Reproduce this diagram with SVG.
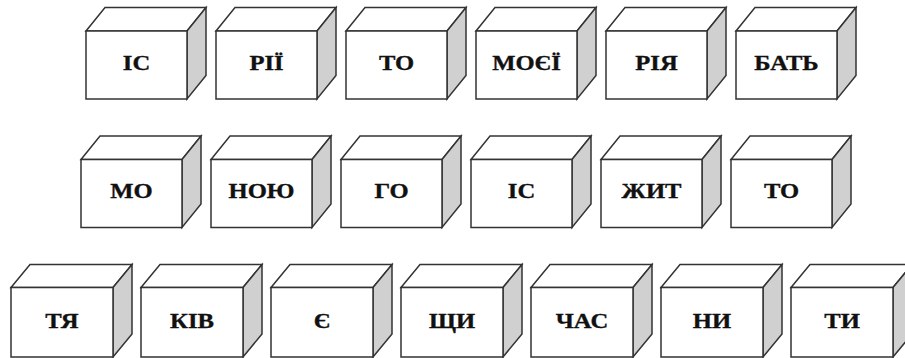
<svg xmlns="http://www.w3.org/2000/svg" width="905" height="358" viewBox="0 0 905 358">
<defs>
<style>
.f{fill:#ffffff;stroke:#333333;stroke-width:1.5;stroke-linejoin:miter}
.s{fill:#d0d0d0;stroke:#333333;stroke-width:1.5}
.t{font-family:"Liberation Serif","Times New Roman",serif;font-weight:bold;font-size:22px;fill:#111111;stroke:#111111;stroke-width:0.35;text-anchor:middle}
</style>
<g id="box">
<polygon class="f" points="0,0 19,-23.5 120,-23.5 101,0"/>
<polygon class="s" points="101,0 120,-23.5 120,44.5 101,68"/>
<rect class="f" x="0" y="0" width="101" height="68"/>
</g>
<g id="box3">
<polygon class="f" points="0,0 19,-23 121,-23 102,0"/>
<polygon class="s" points="102,0 121,-23 121,46.5 102,69.5"/>
<rect class="f" x="0" y="0" width="102" height="69.5"/>
</g>
</defs>
<g id="connectors"></g>
<g id="n1"><use href="#box" x="86" y="31"/><text class="t" transform="translate(136.5,69.5) scale(1.12,1)">ІС</text></g>
<g id="n2"><use href="#box" x="216" y="31"/><text class="t" transform="translate(266.5,69.5) scale(1.12,1)">РІЇ</text></g>
<g id="n3"><use href="#box" x="346" y="31"/><text class="t" transform="translate(396.5,69.5) scale(1.12,1)">ТО</text></g>
<g id="n4"><use href="#box" x="476" y="31"/><text class="t" transform="translate(526.5,69.5) scale(1.12,1)">МОЄЇ</text></g>
<g id="n5"><use href="#box" x="606" y="31"/><text class="t" transform="translate(656.5,69.5) scale(1.12,1)">РІЯ</text></g>
<g id="n6"><use href="#box" x="736" y="31"/><text class="t" transform="translate(786.5,69.5) scale(1.12,1)">БАТЬ</text></g>
<g id="n7"><use href="#box" x="81" y="159.5"/><text class="t" transform="translate(131.5,197.5) scale(1.12,1)">МО</text></g>
<g id="n8"><use href="#box" x="211" y="159.5"/><text class="t" transform="translate(261.5,197.5) scale(1.12,1)">НОЮ</text></g>
<g id="n9"><use href="#box" x="341" y="159.5"/><text class="t" transform="translate(391.5,197.5) scale(1.12,1)">ГО</text></g>
<g id="n10"><use href="#box" x="471" y="159.5"/><text class="t" transform="translate(521.5,197.5) scale(1.12,1)">ІС</text></g>
<g id="n11"><use href="#box" x="601" y="159.5"/><text class="t" transform="translate(651.5,197.5) scale(1.12,1)">ЖИТ</text></g>
<g id="n12"><use href="#box" x="731" y="159.5"/><text class="t" transform="translate(781.5,197.5) scale(1.12,1)">ТО</text></g>
<g id="n13"><use href="#box3" x="11" y="287.5"/><text class="t" transform="translate(62,327.5) scale(1.12,1)">ТЯ</text></g>
<g id="n14"><use href="#box3" x="141" y="287.5"/><text class="t" transform="translate(192,327.5) scale(1.12,1)">КІВ</text></g>
<g id="n15"><use href="#box3" x="271" y="287.5"/><text class="t" transform="translate(322,327.5) scale(1.12,1)">Є</text></g>
<g id="n16"><use href="#box3" x="401" y="287.5"/><text class="t" transform="translate(452,327.5) scale(1.12,1)">ЩИ</text></g>
<g id="n17"><use href="#box3" x="531" y="287.5"/><text class="t" transform="translate(582,327.5) scale(1.12,1)">ЧАС</text></g>
<g id="n18"><use href="#box3" x="661" y="287.5"/><text class="t" transform="translate(712,327.5) scale(1.12,1)">НИ</text></g>
<g id="n19"><use href="#box3" x="791" y="287.5"/><text class="t" transform="translate(842,327.5) scale(1.12,1)">ТИ</text></g>
</svg>
